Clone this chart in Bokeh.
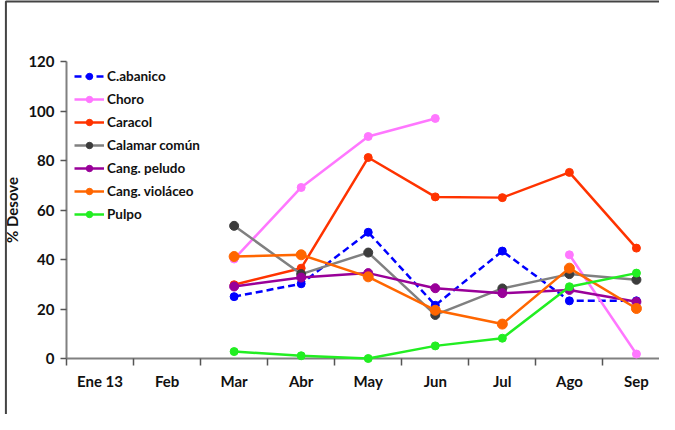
import numpy as np
from bokeh.plotting import figure
from bokeh.models import Range1d, FixedTicker, Legend, LegendItem
from bokeh.embed import file_html
from bokeh.resources import INLINE

months = ["Ene 13", "Feb", "Mar", "Abr", "May", "Jun", "Jul", "Ago", "Sep"]
data_months = ["Mar", "Abr", "May", "Jun", "Jul", "Ago", "Sep"]

nan = float("nan")
c_abanico = [25.0, 30.2, 51.0, 21.5, 43.4, 23.3, 23.3]
choro = [40.2, 69.1, 89.7, 97.0, nan, 41.9, 1.8]
caracol = [29.8, 36.5, 81.2, 65.3, 65.0, 75.2, 44.6]
calamar = [53.6, 34.1, 42.8, 17.6, 28.3, 34.1, 31.8]
cang_peludo = [29.1, 32.7, 34.5, 28.4, 26.4, 27.7, 22.9]
cang_violaceo = [41.2, 41.9, 33.0, 19.5, 13.9, 36.5, 20.2]
pulpo = [2.8, 1.1, 0.0, 5.1, 8.2, 29.0, 34.5]

series = [
    ("C.abanico", c_abanico, "#0000FF", "#0000FF", "7 4", 8),
    ("Choro", choro, "#FF77FF", "#FF77FF", "solid", 8),
    ("Caracol", caracol, "#FF3300", "#FF3300", "solid", 8),
    ("Calamar común", calamar, "#808080", "#3C3C3C", "solid", 9),
    ("Cang. peludo", cang_peludo, "#990099", "#990099", "solid", 9),
    ("Cang. violáceo", cang_violaceo, "#FF6600", "#FF6600", "solid", 10),
    ("Pulpo", pulpo, "#22EE22", "#22EE22", "solid", 8),
]

FONT = "Lato"
W, H = 659, 414
BL, BT, BB = 62, 61, 56
XMAX, YMAX = 8.844, 120

p = figure(width=W, height=H, output_backend="svg", toolbar_location=None,
           x_range=Range1d(0, XMAX), y_range=Range1d(0, YMAX),
           min_border_left=BL, min_border_right=0, min_border_top=BT, min_border_bottom=BB)
p.outline_line_color = None
p.xgrid.visible = False
p.ygrid.visible = False
p.background_fill_color = "white"
p.border_fill_color = "white"

# outer frame of the chart area (top and left edges), placed at the canvas edge
ppx = (W - BL) / XMAX
ppy = (H - BT - BB) / YMAX
fx0 = (1 - BL) / ppx
fy0 = YMAX + (BT - 1) / ppy
fx1 = XMAX + 20 / ppx
fy1 = -(BB + 20) / ppy
p.line([fx0, fx0, fx1], [fy1, fy0, fy0], line_color="#444444", line_width=2,
       level="overlay")

xpos = {m: i + 0.5 for i, m in enumerate(months)}
xs = [xpos[m] for m in data_months]

items = []
for name, vals, lc, mc, dash, sz in series:
    y = np.array(vals, dtype=float)
    r1 = p.line(xs, y, line_color=lc, line_width=2.5, line_dash=dash, level="overlay")
    r2 = p.scatter(xs, y, size=sz, fill_color=mc, line_color=mc, level="overlay")
    items.append(LegendItem(label=name, renderers=[r1, r2]))

legend = Legend(items=items, location=(8, 136), padding=0, margin=0, spacing=7,
                glyph_width=30, glyph_height=16, label_height=16, label_standoff=3,
                background_fill_alpha=0, border_line_color=None,
                label_text_font=FONT, label_text_font_style="bold",
                label_text_font_size="13.5px", label_text_color="#111111")
p.add_layout(legend, "center")

# x axis
p.xaxis.ticker = FixedTicker(ticks=[xpos[m] for m in months],
                             minor_ticks=list(range(0, 10)))
p.xaxis.major_label_overrides = {xpos[m]: m for m in months}
p.xaxis.major_tick_out = 0
p.xaxis.major_tick_in = 0
p.xaxis.minor_tick_out = 7
p.xaxis.minor_tick_in = 0
p.xaxis.minor_tick_line_color = "#555555"
p.xaxis.minor_tick_line_width = 1.5
p.xaxis.major_label_standoff = 6
p.xaxis.axis_line_color = "#808080"
p.xaxis.axis_line_width = 2

# y axis
p.yaxis.ticker = FixedTicker(ticks=[0, 20, 40, 60, 80, 100, 120], minor_ticks=[])
p.yaxis.major_tick_out = 6
p.yaxis.major_tick_in = 0
p.yaxis.major_tick_line_color = "#555555"
p.yaxis.major_tick_line_width = 1.5
p.yaxis.minor_tick_out = 0
p.yaxis.minor_tick_in = 0
p.yaxis.major_label_standoff = 6
p.yaxis.axis_line_color = "#808080"
p.yaxis.axis_line_width = 2
p.yaxis.axis_label = "% Desove"
p.yaxis.axis_label_standoff = 4

for ax in (p.xaxis, p.yaxis):
    ax.major_label_text_font = FONT
    ax.major_label_text_font_style = "bold"
    ax.major_label_text_font_size = "15px"
    ax.major_label_text_color = "#111111"
    ax.axis_label_text_font = FONT
    ax.axis_label_text_font_style = "bold"
    ax.axis_label_text_font_size = "15px"
    ax.axis_label_text_color = "#111111"

open("out.html", "w").write(file_html(p, INLINE))
